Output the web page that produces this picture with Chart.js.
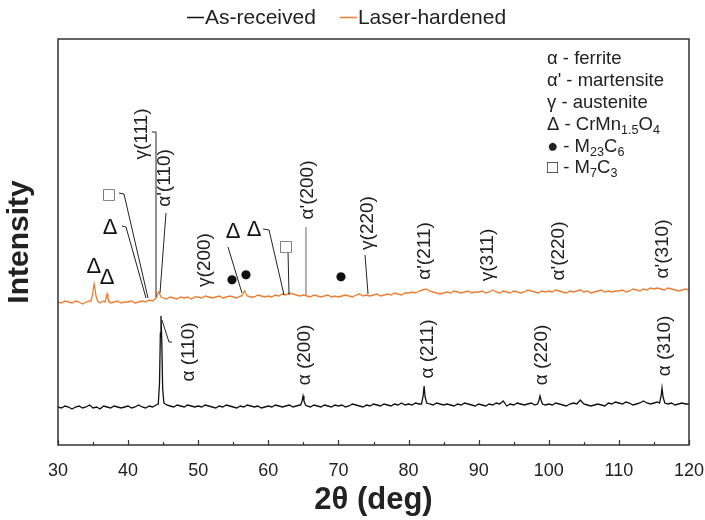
<!DOCTYPE html>
<html lang="en">
<head>
<meta charset="UTF-8">
<title>XRD patterns</title>
<script src="https://cdn.jsdelivr.net/npm/chart.js@4"></script>
<style>
  html, body { margin: 0; padding: 0; background: #fff; }
  #wrap { width: 705px; height: 520px; }
</style>
</head>
<body>
<div id="wrap"><canvas id="chart" width="705" height="520"></canvas></div>
<script>
// 2theta sampling of the baseline arrays (30 .. 120 deg, every 0.5 deg)
const startAngle = 30;
const stepAngle = 0.5;
const xTicks = [30, 40, 50, 60, 70, 80, 90, 100, 110, 120];

// As-received (black) baseline, 181 values
const asReceivedBase = [
  38,37,39,38,36,38,39,37,38,40, 37,38,36,39,38,37,39,38,37,38,
  39,37,38,40,38,37,39,38,40,39, 38,40,39,38,40,39,38,40,39,38,
  39,38,40,39,38,37,39,38,40,39, 38,37,39,38,40,39,38,39,37,38,
  39,38,40,39,38,39,40,38,39,40, 41,39,38,40,39,38,40,39,38,40,
  39,40,38,39,41,40,39,38,40,39, 41,40,39,41,40,39,41,40,42,40,
  41,40,42,41,40,39,41,40,42,41, 40,41,40,39,41,40,42,41,40,39,
  41,40,39,41,40,42,41,44,39,41, 40,42,41,40,41,42,40,41,39,40,
  41,40,42,41,40,39,41,42,41,45, 41,40,39,40,41,40,39,42,41,43,
  42,41,43,42,40,41,42,44,42,41, 42,43,41,42,41,42,40,41,42,41,
  41
];

// Laser-hardened (orange) baseline, 181 values
const laserBase = [
  143,142,144,143,142,144,143,141,143,144, 142,143,142,144,143,142,143,144,142,143,
  143,144,142,143,144,143,145,144,146,148, 147,146,148,147,146,148,147,148,146,148,
  148,147,149,148,147,148,149,147,148,149, 148,147,149,151,149,148,148,150,149,148,
  149,148,150,149,151,150,152,151,150,149, 150,149,148,150,149,148,149,150,148,149,
  148,149,150,149,148,150,151,149,150,149, 150,151,149,150,151,150,152,151,150,152,
  152,153,152,154,155,156,154,153,152,151, 152,153,152,154,153,152,153,154,152,153,
  153,154,152,153,155,153,152,154,153,152, 154,153,152,153,155,154,153,152,154,153,
  154,153,155,154,153,152,154,153,154,155, 153,154,152,153,154,155,153,154,153,154,
  154,155,153,154,156,155,154,156,155,157, 156,157,156,155,157,156,155,154,155,156,
  155
];

// diffraction peaks
const asReceivedPeaks = [
  { x: [44.3, 44.48, 44.6, 44.69, 44.8, 44.93, 45.1], y: [41, 62, 112, 129, 104, 56, 42] },
  { x: [64.6, 64.82, 64.95, 65.08, 65.3], y: [40, 44, 49, 44, 40] },
  { x: [81.85, 82.08, 82.22, 82.36, 82.6], y: [41, 49, 59, 48, 42] },
  { x: [98.4, 98.62, 98.75, 98.9, 99.1], y: [41, 45, 49, 45, 41] },
  { x: [115.8, 116.02, 116.15, 116.3, 116.55], y: [42, 49, 57, 48, 42] }
];
const laserPeaks = [
  { x: [34.7, 34.92, 35.05, 35.15, 35.28, 35.42, 35.65], y: [144, 150, 157, 161, 156, 149, 144] },
  { x: [36.7, 36.9, 37.0, 37.12, 37.35], y: [143, 148, 151, 147, 143] },
  { x: [44.0, 44.2, 44.35, 44.5, 44.7], y: [147, 151, 153, 151, 148] },
  { x: [56.2, 56.45, 56.6, 56.75, 57.0], y: [149, 152, 154, 152, 149] }
];

// rotated reflection labels (x in deg, y in intensity units)
const peakLabels = [
  { text: 'γ(111)', x: 41.98, y: 311 },
  { text: "α'(110)", x: 45.26, y: 267 },
  { text: 'γ(200)', x: 50.97, y: 185 },
  { text: "α'(200)", x: 65.66, y: 255 },
  { text: 'γ(220)', x: 74.22, y: 222 },
  { text: "α'(211)", x: 82.35, y: 194 },
  { text: 'γ(311)', x: 91.33, y: 190 },
  { text: "α'(220)", x: 101.46, y: 194 },
  { text: "α'(310)", x: 116.29, y: 196 },
  { text: 'α (110)', x: 48.69, y: 93 },
  { text: 'α (200)', x: 65.23, y: 90 },
  { text: 'α (211)', x: 82.77, y: 96 },
  { text: 'α (220)', x: 99.03, y: 90 },
  { text: 'α (310)', x: 116.58, y: 99 }
];

// phase markers
const phaseMarks = [
  { s: 'Δ', x: 35.13, y: 178 },
  { s: 'Δ', x: 37.0, y: 167 },
  { s: 'Δ', x: 37.42, y: 217 },
  { s: '□', x: 37.27, y: 250 },
  { s: 'Δ', x: 54.96, y: 213 },
  { s: '●', x: 54.82, y: 165 },
  { s: '●', x: 56.81, y: 170 },
  { s: 'Δ', x: 57.96, y: 215 },
  { s: '□', x: 62.52, y: 198 },
  { s: '●', x: 70.36, y: 168 }
];

// leader lines
const leaderLines = [
  { pts: [[43.41, 313], [43.98, 313], [43.98, 148]] },
  { pts: [[45.40, 232], [44.55, 152]] },
  { pts: [[38.70, 252], [39.41, 251], [42.84, 147]] },
  { pts: [[39.13, 219], [39.70, 218], [42.55, 147]] },
  { pts: [[44.83, 125], [45.83, 103], [46.26, 103]] },
  { pts: [[54.25, 198], [56.24, 152]] },
  { pts: [[59.24, 216], [60.10, 215], [62.24, 150]] },
  { pts: [[62.81, 192], [62.95, 150]] },
  { pts: [[65.37, 218], [65.37, 150]], gray: true },
  { pts: [[73.79, 190], [74.22, 151]] }
];

const phaseKey = [
  [{ t: 'α - ferrite' }],
  [{ t: "α' - martensite" }],
  [{ t: 'γ - austenite' }],
  [{ t: 'Δ - CrMn' }, { t: '1.5', sub: true }, { t: 'O' }, { t: '4', sub: true }],
  [{ t: '● - M' }, { t: '23', sub: true }, { t: 'C' }, { t: '6', sub: true }],
  [{ t: '□ - M' }, { t: '7', sub: true }, { t: 'C' }, { t: '3', sub: true }]
];

const FONT = "'Liberation Sans', Arial, Helvetica, sans-serif";
const TEXT = '#222';

function buildSeries(base, peaks) {
  const pts = [];
  base.forEach((v, i) => {
    const x = startAngle + i * stepAngle;
    const inside = peaks.some(p => x >= p.x[0] && x <= p.x[p.x.length - 1]);
    if (!inside) pts.push({ x: x, y: v });
  });
  peaks.forEach(p => p.x.forEach((x, j) => pts.push({ x: x, y: p.y[j] })));
  return pts.sort((a, b) => a.x - b.x);
}

// frame + inward ticks
const framePlugin = {
  id: 'frame',
  afterDraw(chart) {
    const { ctx, chartArea: a, scales: { x } } = chart;
    ctx.save();
    ctx.strokeStyle = '#333';
    ctx.lineWidth = 1.5;
    ctx.strokeRect(a.left, a.top, a.right - a.left, a.bottom - a.top);
    ctx.lineWidth = 1.2;
    for (let v = 30; v <= 120; v += 5) {
      const px = Math.round(x.getPixelForValue(v)) + 0.5;
      const len = v % 10 === 0 ? 5 : 3;
      ctx.beginPath();
      ctx.moveTo(px, a.bottom);
      ctx.lineTo(px, a.bottom - len);
      ctx.stroke();
    }
    ctx.restore();
  }
};

function drawRich(ctx, parts, x, y, size) {
  let cx = x;
  parts.forEach(p => {
    const s = p.sub ? size * 0.68 : size;
    ctx.font = s + 'px ' + FONT;
    ctx.fillText(p.t, cx, p.sub ? y + size * 0.28 : y);
    cx += ctx.measureText(p.t).width;
  });
}

const annotatePlugin = {
  id: 'annotate',
  afterDatasetsDraw(chart) {
    const { ctx, scales: { x, y } } = chart;
    ctx.save();
    // leaders
    leaderLines.forEach(l => {
      ctx.strokeStyle = l.gray ? '#666' : '#222';
      ctx.lineWidth = 1;
      ctx.beginPath();
      l.pts.forEach((p, i) => {
        const px = x.getPixelForValue(p[0]), py = y.getPixelForValue(p[1]);
        if (i === 0) ctx.moveTo(px, py); else ctx.lineTo(px, py);
      });
      ctx.stroke();
    });
    // rotated labels
    ctx.fillStyle = TEXT;
    ctx.font = '19px ' + FONT;
    ctx.textAlign = 'center';
    ctx.textBaseline = 'middle';
    peakLabels.forEach(l => {
      ctx.save();
      ctx.translate(x.getPixelForValue(l.x), y.getPixelForValue(l.y));
      ctx.rotate(-Math.PI / 2);
      ctx.fillText(l.text, 0, 0);
      ctx.restore();
    });
    // markers
    phaseMarks.forEach(m => {
      const px = x.getPixelForValue(m.x), py = y.getPixelForValue(m.y);
      if (m.s === 'Δ') { ctx.font = '22px ' + FONT; ctx.fillStyle = '#111'; }
      else if (m.s === '●') { ctx.font = '12px DejaVu Sans'; ctx.fillStyle = '#111'; }
      else { ctx.font = '15px DejaVu Sans'; ctx.fillStyle = '#666'; }
      ctx.fillText(m.s, px, py);
    });
    ctx.restore();
  }
};

const keyPlugin = {
  id: 'keys',
  afterDraw(chart) {
    const { ctx } = chart;
    ctx.save();
    ctx.fillStyle = TEXT;
    ctx.textBaseline = 'middle';
    ctx.textAlign = 'left';
    // phase key, top right
    phaseKey.forEach((row, i) => {
      drawRich(ctx, row, 547, [59, 81, 103, 125, 147, 168][i], 18.5);
    });
    // series legend, top
    const items = [
      { label: 'As-received', color: '#111' },
      { label: 'Laser-hardened', color: '#ED7D31' }
    ];
    ctx.font = '21px ' + FONT;
    const dash = 17, gap = 24;
    const widths = items.map(it => dash + 1 + ctx.measureText(it.label).width);
    let cx = 187;
    items.forEach((it, i) => {
      ctx.strokeStyle = it.color;
      ctx.lineWidth = 1.5;
      ctx.beginPath();
      ctx.moveTo(cx, 17.5);
      ctx.lineTo(cx + dash, 17.5);
      ctx.stroke();
      ctx.fillStyle = TEXT;
      ctx.fillText(it.label, cx + dash + 1, 18);
      cx += widths[i] + gap;
    });
    ctx.restore();
  }
};

new Chart(document.getElementById('chart').getContext('2d'), {
  type: 'scatter',
  data: {
    datasets: [
      {
        label: 'As-received',
        data: buildSeries(asReceivedBase, asReceivedPeaks),
        showLine: true, borderColor: '#111', borderWidth: 1.3,
        pointRadius: 0, tension: 0
      },
      {
        label: 'Laser-hardened',
        data: buildSeries(laserBase, laserPeaks),
        showLine: true, borderColor: '#ED7D31', borderWidth: 1.3,
        pointRadius: 0, tension: 0
      }
    ]
  },
  options: {
    responsive: false,
    animation: false,
    layout: { padding: { top: 39, right: 16, bottom: 0, left: 0 } },
    plugins: { legend: { display: false }, tooltip: { enabled: false } },
    scales: {
      x: {
        type: 'linear', min: 30, max: 120,
        grid: { display: false }, border: { display: false },
        afterBuildTicks: s => { s.ticks = xTicks.map(v => ({ value: v })); },
        ticks: { font: { family: FONT, size: 18 }, color: TEXT, padding: 7, maxRotation: 0 },
        title: {
          display: true, text: '2θ (deg)', color: TEXT,
          font: { family: FONT, size: 31, weight: 'bold' }, padding: { top: 0, bottom: 1 }
        },
        afterFit: s => { s.height = 75; s.paddingLeft = 0; s.paddingRight = 0; }
      },
      y: {
        min: 0, max: 406,
        grid: { display: false }, border: { display: false },
        ticks: { display: false },
        title: {
          display: true, text: 'Intensity', color: TEXT,
          font: { family: FONT, size: 30, weight: 'bold' }, padding: { top: 2, bottom: 0 }
        },
        afterFit: s => { s.width = 58; }
      }
    }
  },
  plugins: [framePlugin, annotatePlugin, keyPlugin]
});
</script>
</body>
</html>
